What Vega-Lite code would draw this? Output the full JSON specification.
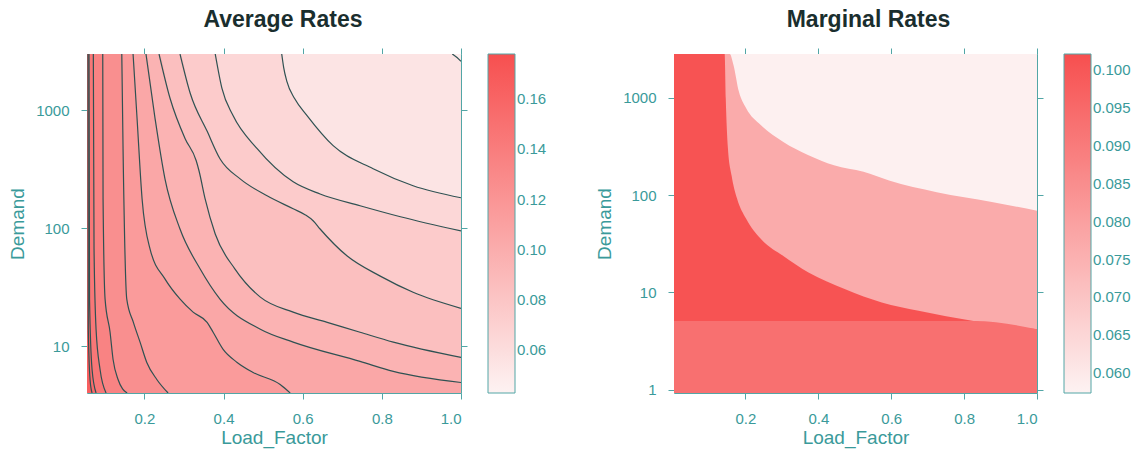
{
  "$schema": "https://vega.github.io/schema/vega-lite/v6.json",
  "background": "white",
  "padding": {"left": 8, "top": 8, "right": 0, "bottom": 4},
  "spacing": 48,
  "config": {
    "font": "Liberation Sans",
    "view": {"stroke": null},
    "axis": {"domainColor": "#52a6a6", "domainWidth": 1, "tickColor": "#52a6a6", "tickSize": 6, "labelColor": "#3a9a9a", "titleColor": "#3a9a9a", "labelFont": "Liberation Sans", "titleFont": "Liberation Sans", "labelFontSize": 15, "titleFontSize": 19, "titleFontWeight": "normal", "grid": false, "zindex": 1},
    "axisBottom": {"labelPadding": 12, "titlePadding": 2},
    "axisLeft": {"labelPadding": 12, "titlePadding": 8},
    "legend": {"gradientLength": 339, "gradientThickness": 27, "gradientStrokeColor": "#52a6a6", "gradientStrokeWidth": 1, "labelColor": "#3a9a9a", "labelFontSize": 15, "labelFont": "Liberation Sans", "labelOffset": 6, "offset": 20, "padding": 0},
    "title": {"fontSize": 23, "fontWeight": "bold", "color": "#1a2e2e", "font": "Liberation Sans"}
  },
  "datasets": {
    "avg": [
      {"c": "c01", "lev": 0.055, "LF": 0.055, "D": 3000, "e": 1},
      {"c": "c01", "lev": 0.055, "LF": 0.978, "D": 3000},
      {"c": "c01", "lev": 0.055, "LF": 0.99, "D": 2800},
      {"c": "c01", "lev": 0.055, "LF": 1.0, "D": 2600},
      {"c": "c02", "lev": 0.065, "LF": 0.055, "D": 3000, "e": 1},
      {"c": "c02", "lev": 0.065, "LF": 0.547, "D": 3000},
      {"c": "c02", "lev": 0.065, "LF": 0.552, "D": 2300},
      {"c": "c02", "lev": 0.065, "LF": 0.56, "D": 1755},
      {"c": "c02", "lev": 0.065, "LF": 0.58, "D": 1250},
      {"c": "c02", "lev": 0.065, "LF": 0.611, "D": 901},
      {"c": "c02", "lev": 0.065, "LF": 0.677, "D": 501},
      {"c": "c02", "lev": 0.065, "LF": 0.778, "D": 319},
      {"c": "c02", "lev": 0.065, "LF": 0.879, "D": 229},
      {"c": "c02", "lev": 0.065, "LF": 1.0, "D": 181},
      {"c": "c03", "lev": 0.075, "LF": 0.055, "D": 3000, "e": 1},
      {"c": "c03", "lev": 0.075, "LF": 0.379, "D": 3000},
      {"c": "c03", "lev": 0.075, "LF": 0.396, "D": 1530},
      {"c": "c03", "lev": 0.075, "LF": 0.424, "D": 901},
      {"c": "c03", "lev": 0.075, "LF": 0.485, "D": 472},
      {"c": "c03", "lev": 0.075, "LF": 0.576, "D": 247},
      {"c": "c03", "lev": 0.075, "LF": 0.644, "D": 195},
      {"c": "c03", "lev": 0.075, "LF": 0.745, "D": 155},
      {"c": "c03", "lev": 0.075, "LF": 0.847, "D": 125},
      {"c": "c03", "lev": 0.075, "LF": 1.0, "D": 94.7},
      {"c": "c04", "lev": 0.085, "LF": 0.055, "D": 3000, "e": 1},
      {"c": "c04", "lev": 0.085, "LF": 0.29, "D": 3000},
      {"c": "c04", "lev": 0.085, "LF": 0.316, "D": 1387},
      {"c": "c04", "lev": 0.085, "LF": 0.359, "D": 659},
      {"c": "c04", "lev": 0.085, "LF": 0.391, "D": 388},
      {"c": "c04", "lev": 0.085, "LF": 0.442, "D": 262},
      {"c": "c04", "lev": 0.085, "LF": 0.51, "D": 188},
      {"c": "c04", "lev": 0.085, "LF": 0.576, "D": 146},
      {"c": "c04", "lev": 0.085, "LF": 0.606, "D": 130},
      {"c": "c04", "lev": 0.085, "LF": 0.627, "D": 115},
      {"c": "c04", "lev": 0.085, "LF": 0.644, "D": 98.4},
      {"c": "c04", "lev": 0.085, "LF": 0.7125, "D": 58.0},
      {"c": "c04", "lev": 0.085, "LF": 0.796, "D": 39.2},
      {"c": "c04", "lev": 0.085, "LF": 0.879, "D": 28.6},
      {"c": "c04", "lev": 0.085, "LF": 1.0, "D": 20.9},
      {"c": "c05", "lev": 0.095, "LF": 0.055, "D": 3000, "e": 1},
      {"c": "c05", "lev": 0.095, "LF": 0.237, "D": 3000},
      {"c": "c05", "lev": 0.095, "LF": 0.265, "D": 1258},
      {"c": "c05", "lev": 0.095, "LF": 0.303, "D": 574},
      {"c": "c05", "lev": 0.095, "LF": 0.331, "D": 373},
      {"c": "c05", "lev": 0.095, "LF": 0.338, "D": 307},
      {"c": "c05", "lev": 0.095, "LF": 0.3535, "D": 177},
      {"c": "c05", "lev": 0.095, "LF": 0.379, "D": 89.2},
      {"c": "c05", "lev": 0.095, "LF": 0.429, "D": 45.0},
      {"c": "c05", "lev": 0.095, "LF": 0.493, "D": 26.0},
      {"c": "c05", "lev": 0.095, "LF": 0.576, "D": 19.4},
      {"c": "c05", "lev": 0.095, "LF": 0.662, "D": 15.9},
      {"c": "c05", "lev": 0.095, "LF": 0.745, "D": 13.1},
      {"c": "c05", "lev": 0.095, "LF": 0.829, "D": 10.8},
      {"c": "c05", "lev": 0.095, "LF": 1.0, "D": 8.01},
      {"c": "c06", "lev": 0.105, "LF": 0.055, "D": 3000, "e": 1},
      {"c": "c06", "lev": 0.105, "LF": 0.204, "D": 3000},
      {"c": "c06", "lev": 0.105, "LF": 0.227, "D": 850},
      {"c": "c06", "lev": 0.105, "LF": 0.252, "D": 262},
      {"c": "c06", "lev": 0.105, "LF": 0.29, "D": 98.4},
      {"c": "c06", "lev": 0.105, "LF": 0.341, "D": 45.0},
      {"c": "c06", "lev": 0.105, "LF": 0.391, "D": 25.0},
      {"c": "c06", "lev": 0.105, "LF": 0.493, "D": 13.9},
      {"c": "c06", "lev": 0.105, "LF": 0.576, "D": 10.8},
      {"c": "c06", "lev": 0.105, "LF": 0.745, "D": 7.41},
      {"c": "c06", "lev": 0.105, "LF": 0.829, "D": 6.1},
      {"c": "c06", "lev": 0.105, "LF": 1.0, "D": 4.91},
      {"c": "c07", "lev": 0.115, "LF": 0.055, "D": 3000, "e": 1},
      {"c": "c07", "lev": 0.115, "LF": 0.1714, "D": 3000},
      {"c": "c07", "lev": 0.115, "LF": 0.1815, "D": 850},
      {"c": "c07", "lev": 0.115, "LF": 0.1942, "D": 177},
      {"c": "c07", "lev": 0.115, "LF": 0.2144, "D": 66.5},
      {"c": "c07", "lev": 0.115, "LF": 0.2523, "D": 37.0},
      {"c": "c07", "lev": 0.115, "LF": 0.2903, "D": 25.0},
      {"c": "c07", "lev": 0.115, "LF": 0.3231, "D": 19.4},
      {"c": "c07", "lev": 0.115, "LF": 0.3585, "D": 15.9},
      {"c": "c07", "lev": 0.115, "LF": 0.3737, "D": 13.1},
      {"c": "c07", "lev": 0.115, "LF": 0.399, "D": 9.37},
      {"c": "c07", "lev": 0.115, "LF": 0.4344, "D": 7.27},
      {"c": "c07", "lev": 0.115, "LF": 0.4749, "D": 5.97},
      {"c": "c07", "lev": 0.115, "LF": 0.5431, "D": 4.72},
      {"c": "c07", "lev": 0.115, "LF": 0.5684, "D": 4.0},
      {"c": "c08", "lev": 0.125, "LF": 0.055, "D": 3000, "e": 1},
      {"c": "c08", "lev": 0.125, "LF": 0.1429, "D": 3000},
      {"c": "c08", "lev": 0.125, "LF": 0.1461, "D": 472},
      {"c": "c08", "lev": 0.125, "LF": 0.1555, "D": 25.0},
      {"c": "c08", "lev": 0.125, "LF": 0.1722, "D": 15.9},
      {"c": "c08", "lev": 0.125, "LF": 0.1891, "D": 10.8},
      {"c": "c08", "lev": 0.125, "LF": 0.2061, "D": 7.27},
      {"c": "c08", "lev": 0.125, "LF": 0.2314, "D": 5.21},
      {"c": "c08", "lev": 0.125, "LF": 0.2599, "D": 4.0},
      {"c": "c09", "lev": 0.135, "LF": 0.055, "D": 3000, "e": 1},
      {"c": "c09", "lev": 0.135, "LF": 0.0948, "D": 3000},
      {"c": "c09", "lev": 0.135, "LF": 0.0956, "D": 177},
      {"c": "c09", "lev": 0.135, "LF": 0.1007, "D": 25.0},
      {"c": "c09", "lev": 0.135, "LF": 0.1133, "D": 13.1},
      {"c": "c09", "lev": 0.135, "LF": 0.1209, "D": 7.7},
      {"c": "c09", "lev": 0.135, "LF": 0.1335, "D": 5.21},
      {"c": "c09", "lev": 0.135, "LF": 0.1563, "D": 4.0},
      {"c": "c10", "lev": 0.145, "LF": 0.055, "D": 3000, "e": 1},
      {"c": "c10", "lev": 0.145, "LF": 0.071, "D": 3000},
      {"c": "c10", "lev": 0.145, "LF": 0.0728, "D": 66.5},
      {"c": "c10", "lev": 0.145, "LF": 0.0779, "D": 13.9},
      {"c": "c10", "lev": 0.145, "LF": 0.088, "D": 6.33},
      {"c": "c10", "lev": 0.145, "LF": 0.1032, "D": 4.0},
      {"c": "c11", "lev": 0.155, "LF": 0.055, "D": 3000, "e": 1},
      {"c": "c11", "lev": 0.155, "LF": 0.0601, "D": 3000},
      {"c": "c11", "lev": 0.155, "LF": 0.0614, "D": 25.0},
      {"c": "c11", "lev": 0.155, "LF": 0.0678, "D": 6.33},
      {"c": "c11", "lev": 0.155, "LF": 0.0779, "D": 4.0},
      {"c": "c12", "lev": 0.165, "LF": 0.055, "D": 3000, "e": 1},
      {"c": "c12", "lev": 0.165, "LF": 0.0576, "D": 3000},
      {"c": "c12", "lev": 0.165, "LF": 0.0583, "D": 13.9},
      {"c": "c12", "lev": 0.165, "LF": 0.0627, "D": 5.21},
      {"c": "c12", "lev": 0.165, "LF": 0.0678, "D": 4.0}
    ],
    "marg": [
      {"c": "r1", "lev": 0.077, "LF": 0.004, "D": 2800},
      {"c": "r1", "lev": 0.077, "LF": 0.157, "D": 2800},
      {"c": "r1", "lev": 0.077, "LF": 0.167, "D": 2170},
      {"c": "r1", "lev": 0.077, "LF": 0.182, "D": 1153},
      {"c": "r1", "lev": 0.077, "LF": 0.202, "D": 776},
      {"c": "r1", "lev": 0.077, "LF": 0.242, "D": 522},
      {"c": "r1", "lev": 0.077, "LF": 0.303, "D": 352},
      {"c": "r1", "lev": 0.077, "LF": 0.373, "D": 256},
      {"c": "r1", "lev": 0.077, "LF": 0.443, "D": 202},
      {"c": "r1", "lev": 0.077, "LF": 0.524, "D": 173},
      {"c": "r1", "lev": 0.077, "LF": 0.594, "D": 141},
      {"c": "r1", "lev": 0.077, "LF": 0.725, "D": 107},
      {"c": "r1", "lev": 0.077, "LF": 0.876, "D": 85},
      {"c": "r1", "lev": 0.077, "LF": 1.0, "D": 69},
      {"c": "r2", "lev": 0.101, "LF": 0.004, "D": 2800},
      {"c": "r2", "lev": 0.101, "LF": 0.143, "D": 2800},
      {"c": "r2", "lev": 0.101, "LF": 0.146, "D": 985},
      {"c": "r2", "lev": 0.101, "LF": 0.152, "D": 300},
      {"c": "r2", "lev": 0.101, "LF": 0.162, "D": 159},
      {"c": "r2", "lev": 0.101, "LF": 0.177, "D": 92},
      {"c": "r2", "lev": 0.101, "LF": 0.202, "D": 57},
      {"c": "r2", "lev": 0.101, "LF": 0.242, "D": 35.5},
      {"c": "r2", "lev": 0.101, "LF": 0.303, "D": 23.8},
      {"c": "r2", "lev": 0.101, "LF": 0.373, "D": 16},
      {"c": "r2", "lev": 0.101, "LF": 0.474, "D": 10.8},
      {"c": "r2", "lev": 0.101, "LF": 0.574, "D": 7.9},
      {"c": "r2", "lev": 0.101, "LF": 0.675, "D": 6.5},
      {"c": "r2", "lev": 0.101, "LF": 0.826, "D": 5.1},
      {"c": "r2", "lev": 0.101, "LF": 1.0, "D": 4.2},
      {"c": "r3", "lev": 0.093, "LF": 0.004, "D": 5.1},
      {"c": "r3", "lev": 0.093, "LF": 0.826, "D": 5.1},
      {"c": "r3", "lev": 0.093, "LF": 1.0, "D": 4.2}
    ]
  },
  "resolve": {"scale": {"color": "independent"}},
  "hconcat": [
    {
      "width": 374,
      "height": 339,
      "title": {"text": "Average Rates", "frame": "group", "dx": 9, "offset": 16},
      "resolve": {"axis": {"x": "independent", "y": "independent"}},
      "layer": [
        {
          "data": {"values": [{"LF": 0.055, "LF2": 1.0, "D": 4, "D2": 3000, "lev": 0.047}]},
          "mark": {"type": "rect", "clip": true},
          "encoding": {
            "x": {"field": "LF", "type": "quantitative", "scale": {"domain": [0.055, 1.0], "nice": false, "zero": false}, "axis": {"orient": "bottom", "values": [0.2, 0.4, 0.6, 0.8, 1.0], "format": ".1f", "title": "Load_Factor"}},
            "x2": {"field": "LF2"},
            "y": {"field": "D", "type": "quantitative", "scale": {"type": "log", "domain": [4, 3000], "nice": false}, "axis": {"orient": "left", "values": [10, 100, 1000], "format": "d", "title": "Demand"}},
            "y2": {"field": "D2"},
            "color": {"field": "lev", "type": "quantitative", "scale": {"domain": [0.043, 0.178], "range": ["#fdf2f2", "#f74f4f"], "interpolate": "rgb"}, "legend": {"values": [0.06, 0.08, 0.1, 0.12, 0.14, 0.16], "format": ".2f", "title": null}}
          }
        },
        {
          "data": {"name": "avg"},
          "mark": {"type": "area", "interpolate": "monotone", "clip": true},
          "encoding": {
            "x": {"field": "LF", "type": "quantitative", "axis": {"orient": "top", "labels": false, "title": null, "values": [0.2, 0.4, 0.6, 0.8, 1.0]}},
            "y": {"field": "D", "type": "quantitative", "axis": {"orient": "right", "labels": false, "title": null, "values": [10, 100, 1000]}},
            "y2": {"datum": 4},
            "color": {"field": "lev", "type": "quantitative", "legend": {"values": [0.06, 0.08, 0.1, 0.12, 0.14, 0.16], "format": ".2f", "title": null}},
            "detail": {"field": "c", "type": "nominal"}
          }
        },
        {
          "data": {"name": "avg"},
          "transform": [{"filter": "datum.e != 1"}],
          "mark": {"type": "line", "interpolate": "monotone", "stroke": "#2f5152", "strokeWidth": 1.2, "clip": true},
          "encoding": {
            "x": {"field": "LF", "type": "quantitative", "axis": null},
            "y": {"field": "D", "type": "quantitative", "axis": null},
            "detail": {"field": "c", "type": "nominal"}
          }
        }
      ]
    },
    {
      "width": 363,
      "height": 339,
      "title": {"text": "Marginal Rates", "frame": "group", "dx": 13, "offset": 16},
      "resolve": {"axis": {"x": "independent", "y": "independent"}},
      "layer": [
        {
          "data": {"values": [{"LF": 0.004, "LF2": 1.0, "D": 0.93, "D2": 2800, "lev": 0.058}]},
          "mark": {"type": "rect", "clip": true},
          "encoding": {
            "x": {"field": "LF", "type": "quantitative", "scale": {"domain": [0.004, 1.0], "nice": false, "zero": false}, "axis": {"orient": "bottom", "values": [0.2, 0.4, 0.6, 0.8, 1.0], "format": ".1f", "title": "Load_Factor"}},
            "x2": {"field": "LF2"},
            "y": {"field": "D", "type": "quantitative", "scale": {"type": "log", "domain": [0.93, 2800], "nice": false}, "axis": {"orient": "left", "values": [1, 10, 100, 1000], "format": "d", "title": "Demand"}},
            "y2": {"field": "D2"},
            "color": {"field": "lev", "type": "quantitative", "scale": {"domain": [0.0574, 0.1021], "range": ["#fdf2f2", "#f74f4f"], "interpolate": "rgb"}, "legend": {"values": [0.06, 0.065, 0.07, 0.075, 0.08, 0.085, 0.09, 0.095, 0.1], "format": ".3f", "title": null}}
          }
        },
        {
          "data": {"name": "marg"},
          "mark": {"type": "area", "interpolate": "monotone", "clip": true},
          "encoding": {
            "x": {"field": "LF", "type": "quantitative", "axis": {"orient": "top", "labels": false, "title": null, "values": [0.2, 0.4, 0.6, 0.8, 1.0]}},
            "y": {"field": "D", "type": "quantitative", "axis": {"orient": "right", "labels": false, "title": null, "values": [1, 10, 100, 1000]}},
            "y2": {"datum": 0.93},
            "color": {"field": "lev", "type": "quantitative", "legend": {"values": [0.06, 0.065, 0.07, 0.075, 0.08, 0.085, 0.09, 0.095, 0.1], "format": ".3f", "title": null}},
            "detail": {"field": "c", "type": "nominal"}
          }
        }
      ]
    }
  ]
}
